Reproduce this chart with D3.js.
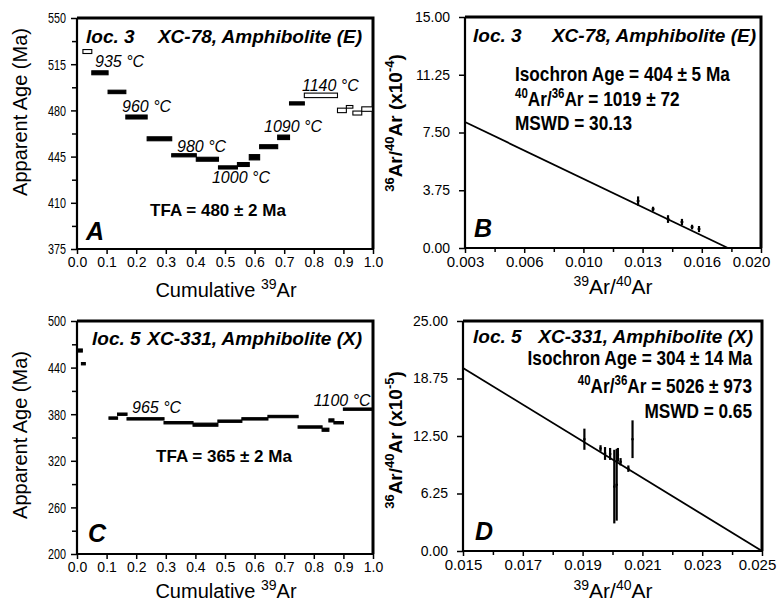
<!DOCTYPE html>
<html>
<head lang="en">
    <meta charset="UTF-8">
    <title>Ar-Ar spectra and isochrons</title>
    <style>
        body { margin: 0; background: #fff; }
        svg text { font-family: "Liberation Sans", Arial, Helvetica, sans-serif; fill: #000; }
        .tick line { stroke: #000; stroke-width: 1.5; }
        .ttl { font-size: 19px; font-weight: bold; font-style: italic; }
        .temp { font-size: 16px; font-style: italic; }
        .tfa { font-size: 17px; font-weight: bold; }
        .stat { font-size: 21px; font-weight: bold; }
        .letter { font-size: 25px; font-weight: bold; font-style: italic; }
    </style>
</head>
<body>
<svg width="778" height="605"></svg>

<script src="https://cdn.jsdelivr.net/npm/d3@7"></script>
<script>
    // ---- A: loc. 3, XC-78 age spectrum ----
    var x0A = [0.02, 0.05, 0.105, 0.165, 0.237, 0.32, 0.403, 0.478, 0.542, 0.582, 0.617, 0.678, 0.718, 0.768, 0.88, 0.91, 0.932, 0.962];
    var x1A = [0.05, 0.105, 0.165, 0.237, 0.32, 0.403, 0.478, 0.542, 0.582, 0.617, 0.678, 0.718, 0.768, 0.88, 0.91, 0.932, 0.962, 0.998];
    var ageA = [524.6, 508.5, 494, 475, 458.5, 446, 443, 436.8, 439, 444.5, 452.5, 459.6, 485.3, 491.4, 480, 482.7, 478, 481];
    var errA = [1.5, 1.5, 1.3, 1.5, 1.5, 1.2, 1.5, 1.2, 1.5, 2, 1.5, 1.7, 1.2, 1.7, 1.7, 1, 1.5, 1.7];
    var openA = [1, 0, 0, 0, 0, 0, 0, 0, 0, 0, 0, 0, 0, 1, 1, 1, 1, 1];
    var tempA = ["935 °C", "960 °C", "980 °C", "1000 °C", "1090 °C", "1140 °C"];
    var tempAx = [0.061, 0.152, 0.338, 0.456, 0.632, 0.76];
    var tempAy = [512.9, 478.8, 448.5, 425, 463.6, 494.7];
    var yTicksA = [375, 410, 445, 480, 515, 550];

    // ---- B: loc. 3 isochron ----
    var xB = [0.01294, 0.0138, 0.01466, 0.01546, 0.01604, 0.01644];
    var yB = [3.05, 2.53, 1.88, 1.69, 1.36, 1.23];
    var eB = [0.3, 0.15, 0.25, 0.2, 0.15, 0.2];
    var lineBx = [0.003, 0.0181];
    var lineBy = [8.18, 0];
    var xLabelsB = ["0.003", "0.006", "0.010", "0.013", "0.016", "0.020"];
    var yTicksB = [0, 3.75, 7.5, 11.25, 15];

    // ---- C: loc. 5, XC-331 age spectrum ----
    var x0C = [0.003, 0.015, 0.108, 0.137, 0.169, 0.294, 0.392, 0.476, 0.557, 0.645, 0.747, 0.828, 0.851, 0.868, 0.9];
    var x1C = [0.018, 0.028, 0.137, 0.169, 0.294, 0.392, 0.476, 0.557, 0.645, 0.747, 0.828, 0.851, 0.868, 0.9, 1.0];
    var ageC = [462, 445, 375, 380, 374, 369, 366.5, 371, 374, 377, 363.5, 360, 372, 369, 386.5];
    var errC = [2, 1.5, 1.5, 1.5, 1.5, 1.5, 2, 1.5, 1.5, 1.5, 1.5, 2, 2, 1.5, 1.5];
    var tempC = ["965 °C", "1100 °C"];
    var tempCx = [0.186, 0.80];
    var tempCy = [381.5, 390.6];
    var yTicksC = [200, 260, 320, 380, 440, 500];

    // ---- D: loc. 5 isochron ----
    var xD = [0.01906, 0.0196, 0.01975, 0.01992, 0.02006, 0.02014, 0.02018, 0.02027, 0.02053, 0.02067];
    var yD = [12.15, 11.15, 10.6, 10.55, 7.0, 7.2, 10.45, 9.7, 8.95, 12.15];
    var eD = [1.15, 0.35, 0.7, 0.65, 4.0, 3.9, 0.75, 0.4, 0.35, 2.05];
    var lineDx = [0.015, 0.025];
    var lineDy = [19.9, 0];
    var xTicksD = [0.015, 0.017, 0.019, 0.021, 0.023, 0.025];
    var yTicksD = [0, 6.25, 12.5, 18.75, 25];

    var svg = d3.select("svg");

    // text with ^superscript parts
    function rich(t, parts, size) {
        var shift = 0;
        parts.forEach(function (p) {
            var sup = p.charAt(0) === "^";
            var target = sup ? -Math.round(size * 0.4) : 0;
            t.append("tspan")
                .attr("dy", target - shift)
                .attr("font-size", sup ? Math.round(size * 0.68) : size)
                .text(sup ? p.slice(1) : p);
            shift = target;
        });
        return t;
    }

    function mids(v) {
        var m = [];
        for (var i = 0; i < v.length - 1; i++) m.push((v[i] + v[i + 1]) / 2);
        return m;
    }

    function panel(box, x, y, o) {
        var w = box.r - box.l, h = box.b - box.t;
        x.range([0, w]);
        y.range([h, 0]);
        var g = svg.append("g").attr("transform", "translate(" + box.l + "," + box.t + ")");

        if (o.xMinor) {
            g.append("g").attr("transform", "translate(0," + h + ")")
                .call(d3.axisBottom(x).tickValues(o.xMinor).tickSize(4).tickSizeOuter(0).tickFormat(""))
                .select(".domain").remove();
        }
        if (o.yMinor) {
            g.append("g")
                .call(d3.axisLeft(y).tickValues(o.yMinor).tickSize(5).tickSizeOuter(0).tickFormat(""))
                .select(".domain").remove();
        }
        var xa = g.append("g").attr("transform", "translate(0," + h + ")")
            .call(d3.axisBottom(x).tickValues(o.xTicks).tickFormat(o.xFmt).tickSize(5).tickSizeOuter(0).tickPadding(3));
        xa.select(".domain").remove();
        xa.selectAll("text").attr("font-size", o.xSize).attr("fill", "#000");
        // the last label is pulled in to stay inside the figure
        if (o.lastShift) xa.selectAll(".tick:last-of-type text").attr("dx", o.lastShift);

        var ya = g.append("g")
            .call(d3.axisLeft(y).tickValues(o.yTicks).tickFormat(o.yFmt).tickSize(6).tickSizeOuter(0).tickPadding(o.yPad));
        ya.select(".domain").remove();
        ya.selectAll("text").attr("font-size", o.ySize || 14).attr("fill", "#000");
        if (o.yNarrow) {
            ya.selectAll("text").attr("x", null)
                .attr("transform", "translate(" + (-6 - o.yPad) + ",0) scale(" + o.yNarrow + ",1)");
        }

        // frame: heavier at top / right
        g.append("path").attr("d", "M0,0V" + h + "H" + w)
            .attr("fill", "none").attr("stroke", "#000").attr("stroke-width", 2.2);
        g.append("path").attr("d", "M0,0H" + w + "V" + h)
            .attr("fill", "none").attr("stroke", "#000").attr("stroke-width", 3);
        return g;
    }

    function steps(g, x, y, x0, x1, age, err, open) {
        g.selectAll("rect.step").data(d3.range(age.length)).enter()
            .append("rect")
            .attr("class", "step")
            .attr("x", function (i) { return x(x0[i]); })
            .attr("width", function (i) { return x(x1[i]) - x(x0[i]); })
            .attr("y", function (i) { return y(age[i] + err[i]); })
            .attr("height", function (i) { return y(age[i] - err[i]) - y(age[i] + err[i]); })
            .attr("fill", function (i) { return open && open[i] ? "#fff" : "#000"; })
            .attr("stroke", "#000")
            .attr("stroke-width", 1.1);
    }

    function isochron(g, x, y, px, py, pe, lx, ly, dx) {
        g.append("line")
            .attr("x1", x(lx[0])).attr("y1", y(ly[0]))
            .attr("x2", x(lx[1])).attr("y2", y(ly[1]))
            .attr("stroke", "#000").attr("stroke-width", 1.8);
        var pts = g.selectAll("g.pt").data(d3.range(px.length)).enter().append("g");
        pts.append("line")
            .attr("x1", function (i) { return x(px[i]); })
            .attr("x2", function (i) { return x(px[i]); })
            .attr("y1", function (i) { return y(py[i] - pe[i]); })
            .attr("y2", function (i) { return y(py[i] + pe[i]); })
            .attr("stroke", "#000").attr("stroke-width", 2.2);
        pts.append("line")
            .attr("x1", function (i) { return x(px[i] - dx); })
            .attr("x2", function (i) { return x(px[i] + dx); })
            .attr("y1", function (i) { return y(py[i]); })
            .attr("y2", function (i) { return y(py[i]); })
            .attr("stroke", "#000").attr("stroke-width", 2);
    }

    function yTitle(px, py, parts, size, bold) {
        var t = svg.append("text")
            .attr("transform", "translate(" + px + "," + py + ") rotate(-90)")
            .attr("text-anchor", "middle")
            .attr("font-size", size)
            .attr("font-weight", bold ? "bold" : "normal");
        rich(t, parts, size);
    }

    function xTitle(px, py, parts, size) {
        var t = svg.append("text").attr("x", px).attr("y", py)
            .attr("text-anchor", "middle").attr("font-size", size);
        rich(t, parts, size);
    }

    function text(g, cls, px, py, str, anchor) {
        return g.append("text").attr("class", cls).attr("x", px).attr("y", py)
            .attr("text-anchor", anchor || "start").text(str);
    }

    // condensed bold lines (isochron stats)
    function narrow(g, px, py, anchor) {
        return g.append("text").attr("class", "stat")
            .attr("transform", "translate(" + px + "," + py + ") scale(0.82,1)")
            .attr("text-anchor", anchor || "start");
    }

    // ================= A =================
    var boxA = {l: 77, t: 18, r: 373, b: 249};
    var xA = d3.scaleLinear().domain([0, 1]);
    var yA = d3.scaleLinear().domain([375, 550]);
    var gA = panel(boxA, xA, yA, {
        xTicks: d3.range(0, 1.001, 0.1), xFmt: d3.format(".1f"), xSize: 14,
        yTicks: yTicksA, yFmt: d3.format("d"), yMinor: mids(yTicksA), yPad: 5, ySize: 15, yNarrow: 0.72
    });
    steps(gA, xA, yA, x0A, x1A, ageA, errA, openA);
    tempA.forEach(function (s, i) { text(gA, "temp", xA(tempAx[i]), yA(tempAy[i]), s); });
    text(gA, "ttl", 9, 25, "loc. 3");
    text(gA, "ttl", 285, 25, "XC-78, Amphibolite (E)", "end");
    text(gA, "tfa", 141, 198, "TFA = 480 ± 2 Ma", "middle");
    text(gA, "letter", 9, 222, "A");
    yTitle(27, 112, ["Apparent Age (Ma)"], 20);
    xTitle(226, 297, ["Cumulative ", "^39", "Ar"], 20);

    // ================= B =================
    var boxB = {l: 465, t: 17, r: 761, b: 248};
    var xB_ = d3.scaleLinear().domain([0.003, 0.020]);
    var yB_ = d3.scaleLinear().domain([0, 15]);
    var xTicksB = d3.range(6).map(function (i) { return 0.003 + i * 0.0034; });
    var gB = panel(boxB, xB_, yB_, {
        xTicks: xTicksB, xFmt: function (d, i) { return xLabelsB[i]; }, xMinor: mids(xTicksB), xSize: 15, lastShift: -10,
        yTicks: yTicksB, yFmt: d3.format(".2f"), yPad: 9
    });
    isochron(gB, xB_, yB_, xB, yB, eB, lineBx, lineBy, 0.00008);
    text(gB, "ttl", 8, 25, "loc. 3");
    text(gB, "ttl", 291, 25, "XC-78, Amphibolite (E)", "end");
    narrow(gB, 50, 64).text("Isochron Age = 404 ± 5 Ma");
    rich(narrow(gB, 50, 89), ["^40", "Ar/", "^36", "Ar = 1019 ± 72"], 21);
    narrow(gB, 50, 113).text("MSWD = 30.13");
    text(gB, "letter", 9, 220, "B");
    yTitle(402, 123, ["^36", "Ar/", "^40", "Ar (x10", "^-4", ")"], 19, true);
    xTitle(613, 294, ["^39", "Ar/", "^40", "Ar"], 21);

    // ================= C =================
    var boxC = {l: 77, t: 321, r: 373, b: 554};
    var xC = d3.scaleLinear().domain([0, 1]);
    var yC = d3.scaleLinear().domain([200, 500]);
    var gC = panel(boxC, xC, yC, {
        xTicks: d3.range(0, 1.001, 0.1), xFmt: d3.format(".1f"), xSize: 14,
        yTicks: yTicksC, yFmt: d3.format("d"), yMinor: mids(yTicksC), yPad: 5, ySize: 15, yNarrow: 0.72
    });
    steps(gC, xC, yC, x0C, x1C, ageC, errC, null);
    tempC.forEach(function (s, i) { text(gC, "temp", xC(tempCx[i]), yC(tempCy[i]), s); });
    text(gC, "ttl", 15, 24, "loc. 5");
    text(gC, "ttl", 285, 24, "XC-331, Amphibolite (X)", "end");
    text(gC, "tfa", 147, 141, "TFA = 365 ± 2 Ma", "middle");
    text(gC, "letter", 11, 221, "C");
    yTitle(27, 435, ["Apparent Age (Ma)"], 20);
    xTitle(226, 598, ["Cumulative ", "^39", "Ar"], 20);

    // ================= D =================
    var boxD = {l: 463, t: 321, r: 762, b: 551};
    var xD_ = d3.scaleLinear().domain([0.015, 0.025]);
    var yD_ = d3.scaleLinear().domain([0, 25]);
    var gD = panel(boxD, xD_, yD_, {
        xTicks: xTicksD, xFmt: d3.format(".3f"), xMinor: mids(xTicksD), xSize: 15, lastShift: -5,
        yTicks: yTicksD, yFmt: d3.format(".2f"), yPad: 9
    });
    isochron(gD, xD_, yD_, xD, yD, eD, lineDx, lineDy, 0.00004);
    text(gD, "ttl", 10, 22, "loc. 5");
    text(gD, "ttl", 290, 22, "XC-331, Amphibolite (X)", "end");
    narrow(gD, 289, 44, "end").text("Isochron Age = 304 ± 14 Ma");
    rich(narrow(gD, 289, 72, "end"), ["^40", "Ar/", "^36", "Ar = 5026 ± 973"], 21);
    narrow(gD, 289, 97, "end").text("MSWD = 0.65");
    text(gD, "letter", 12, 219, "D");
    yTitle(402, 440, ["^36", "Ar/", "^40", "Ar (x10", "^-5", ")"], 19, true);
    xTitle(613, 598, ["^39", "Ar/", "^40", "Ar"], 21);
</script>
</body>
</html>
